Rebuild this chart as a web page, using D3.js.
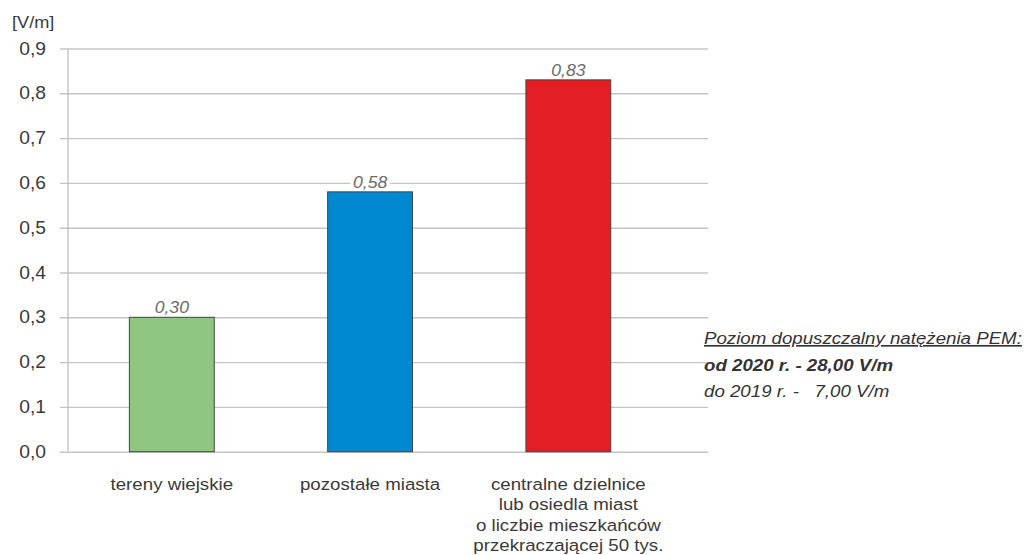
<!DOCTYPE html>
<html>
<head>
<meta charset="utf-8">
<script src="https://cdn.jsdelivr.net/npm/d3@7"></script>
<style>
  html, body { margin: 0; padding: 0; background: #fff; }
  svg { display: block; font-family: "Liberation Sans", Arial, sans-serif; }
</style>
</head>
<body>
<svg id="chart" width="1025" height="555"></svg>
<script>
// Mean electromagnetic field intensity by area type
const categories = [
  ["tereny wiejskie"],
  ["pozostałe miasta"],
  ["centralne dzielnice", "lub osiedla miast", "o liczbie mieszkańców", "przekraczającej 50 tys."]
];
const values = [0.30, 0.58, 0.83];
const barColors = ["#8ec682", "#0089d0", "#e31e24"];
const yTicks = [0, 0.1, 0.2, 0.3, 0.4, 0.5, 0.6, 0.7, 0.8, 0.9];
const unitLabel = "[V/m]";
const noteLines = [
  { text: "Poziom dopuszczalny natężenia PEM:", weight: "normal", underline: true },
  { text: "od 2020 r. - 28,00 V/m", weight: "bold", underline: false },
  { text: "do 2019 r. -\u00a0\u00a0 7,00 V/m", weight: "normal", underline: false }
];

const svg = d3.select("#chart");
const fmt = v => d3.format(".2f")(v).replace(".", ",");
const fmtTick = v => d3.format(".1f")(v).replace(".", ",");
// the typeface used here is set slightly wide
const SX = 1.1;
const place = (px, py) => `translate(${px},${py}) scale(${SX},1)`;

const x = d3.scaleBand()
  .domain(d3.range(categories.length))
  .range([68, 708])
  .paddingInner(0.572)
  .paddingOuter(0.4)
  .align(0.387);

const y = d3.scaleLinear().domain([0, 0.9]).range([451.7, 48.5]);

// gridlines drawn as ticks of a left axis
const yAxis = d3.axisLeft(y)
  .tickValues(yTicks)
  .tickFormat(fmtTick)
  .tickSize(-(708 - 60))
  .tickPadding(14);

const gAxis = svg.append("g")
  .attr("transform", "translate(60,0)")
  .call(yAxis);
gAxis.select(".domain").remove();
gAxis.selectAll(".tick line")
  .attr("stroke", "#c4c4c4")
  .attr("stroke-width", 1.4)
  .attr("x1", 0).attr("x2", 708 - 60);
gAxis.selectAll(".tick text")
  .attr("fill", "#3a3a3a")
  .attr("font-size", 17.5)
  .attr("x", 0)
  .attr("dy", "0.32em")
  .attr("transform", place(-14, 0));

// vertical axis line
svg.append("line")
  .attr("x1", 68).attr("x2", 68)
  .attr("y1", y(0.9)).attr("y2", y(0))
  .attr("stroke", "#c4c4c4")
  .attr("stroke-width", 1.4);

svg.append("text")
  .attr("transform", place(12, 28))
  .attr("font-size", 16.5)
  .attr("fill", "#3a3a3a")
  .text(unitLabel);

// bars
svg.append("g").selectAll("rect")
  .data(values)
  .join("rect")
  .attr("x", (d, i) => x(i))
  .attr("width", x.bandwidth())
  .attr("y", d => y(d))
  .attr("height", d => y(0) - y(d))
  .attr("fill", (d, i) => barColors[i])
  .attr("stroke", "#444")
  .attr("stroke-width", 1);

// value labels with a white backing over the gridlines
const labels = svg.append("g").selectAll("g")
  .data(values)
  .join("g")
  .attr("transform", (d, i) => `translate(${x(i) + x.bandwidth() / 2},${y(d) - 4})`);
labels.append("rect")
  .attr("x", -20).attr("y", -14)
  .attr("width", 40).attr("height", 15)
  .attr("fill", "#fff");
labels.append("text")
  .attr("transform", `scale(${SX},1)`)
  .attr("text-anchor", "middle")
  .attr("font-size", 16)
  .attr("font-style", "italic")
  .attr("fill", "#6b6b6b")
  .text(d => fmt(d));

// category labels
const cat = svg.append("g").selectAll("text")
  .data(categories)
  .join("text")
  .attr("transform", (d, i) => place(x(i) + x.bandwidth() / 2, 490))
  .attr("text-anchor", "middle")
  .attr("font-size", 17)
  .attr("fill", "#3a3a3a");
cat.selectAll("tspan")
  .data(d => d)
  .join("tspan")
  .attr("x", 0)
  .attr("dy", (d, i) => i === 0 ? 0 : 20.3)
  .text(d => d);

// permissible level note
svg.append("g").selectAll("text")
  .data(noteLines)
  .join("text")
  .attr("transform", (d, i) => place(704, 344 + i * 26.5))
  .attr("font-size", 17)
  .attr("font-style", "italic")
  .attr("font-weight", d => d.weight)
  .attr("text-decoration", d => d.underline ? "underline" : null)
  .attr("fill", "#333")
  .text(d => d.text);
</script>
</body>
</html>
